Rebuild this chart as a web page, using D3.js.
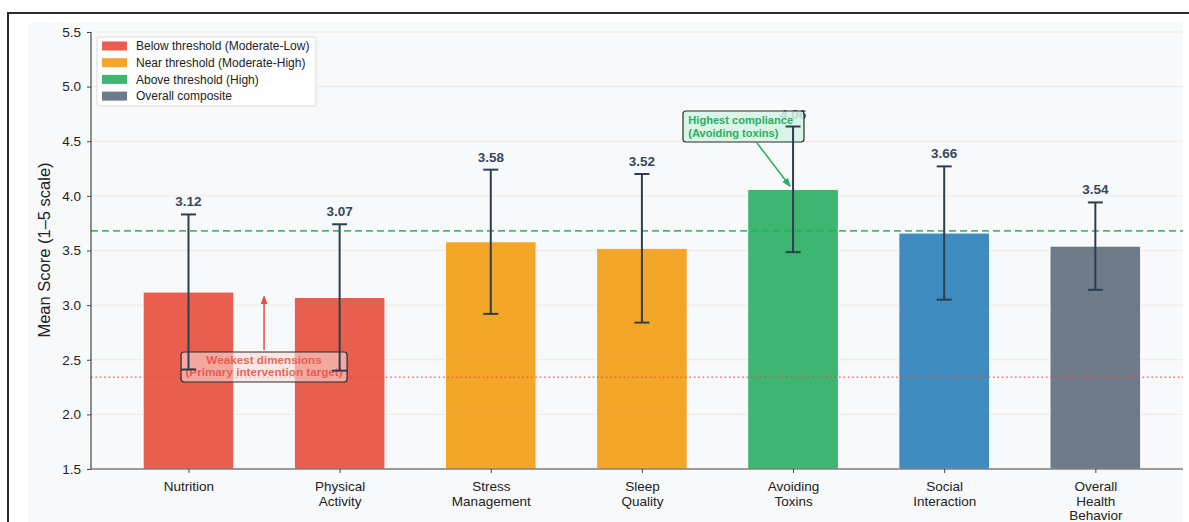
<!DOCTYPE html>
<html>
<head>
<meta charset="utf-8">
<script src="https://cdn.jsdelivr.net/npm/d3@7"></script>
<style>
  body { margin: 0; background: #fff; }
  svg { display: block; font-family: "Liberation Sans", Arial, sans-serif; }
</style>
</head>
<body>
<script>
// data
var categories = ["Nutrition", "Physical\nActivity", "Stress\nManagement", "Sleep\nQuality",
                  "Avoiding\nToxins", "Social\nInteraction", "Overall\nHealth\nBehavior"];
var means = [3.12, 3.07, 3.58, 3.52, 4.06, 3.66, 3.54];
var sds = [0.71, 0.67, 0.66, 0.68, 0.575, 0.61, 0.40];
var barColors = ["#e74c3c", "#e74c3c", "#f39c12", "#f39c12", "#27ae60", "#2980b9", "#5d6d7e"];
var legendLabels = ["Below threshold (Moderate-Low)", "Near threshold (Moderate-High)",
                    "Above threshold (High)", "Overall composite"];
var legendColors = ["#e74c3c", "#f39c12", "#27ae60", "#5d6d7e"];
var yTicks = [1.5, 2.0, 2.5, 3.0, 3.5, 4.0, 4.5, 5.0, 5.5];
var highThreshold = 3.68;
var lowThreshold = 2.34;

window.onload = () => {
  var W = 1189, H = 522;
  var left = 91, right = 1183, top = 32, bottom = 469;

  var svg = d3.select("body").append("svg")
    .attr("width", W).attr("height", H);

  // figure background and frame
  svg.append("rect").attr("x", 28).attr("y", 23)
    .attr("width", right - 28).attr("height", H - 23).attr("fill", "#f8f9fa");
  svg.append("rect").attr("x", 8).attr("y", 13)
    .attr("width", 1300).attr("height", 700)
    .attr("fill", "none").attr("stroke", "#2b2b2b").attr("stroke-width", 2);

  var x = d3.scaleLinear().domain([-0.645, 6.58]).range([left, right]);
  var y = d3.scaleLinear().domain([1.5, 5.5]).range([bottom, top]);
  var bw = x(0.6) - x(0);

  // grid
  svg.append("g").selectAll("line").data(yTicks).enter().append("line")
    .attr("x1", left).attr("x2", right)
    .attr("y1", d => y(d)).attr("y2", d => y(d))
    .attr("stroke", "#e9e9e9").attr("stroke-width", 1);

  // bars
  svg.append("g").selectAll("rect").data(means).enter().append("rect")
    .attr("x", (d, i) => x(i) - bw / 2)
    .attr("y", d => y(d))
    .attr("width", bw)
    .attr("height", d => bottom - y(d))
    .attr("fill", (d, i) => barColors[i])
    .attr("fill-opacity", 0.9)
    .attr("stroke", "#fff").attr("stroke-width", 1);

  // threshold lines
  svg.append("line")
    .attr("x1", left).attr("x2", right)
    .attr("y1", y(highThreshold)).attr("y2", y(highThreshold))
    .attr("stroke", "#27ae60").attr("stroke-width", 1.8)
    .attr("stroke-dasharray", "7,4").attr("opacity", 0.85);
  svg.append("line")
    .attr("x1", left).attr("x2", right)
    .attr("y1", y(lowThreshold)).attr("y2", y(lowThreshold))
    .attr("stroke", "#e74c3c").attr("stroke-width", 1.6)
    .attr("stroke-dasharray", "1.6,2.8").attr("opacity", 0.75);

  // value labels
  svg.append("g").selectAll("text").data(means).enter().append("text")
    .attr("x", (d, i) => x(i))
    .attr("y", (d, i) => y(d + sds[i]) - 8)
    .attr("text-anchor", "middle")
    .attr("font-size", 13.5).attr("font-weight", "bold")
    .attr("fill", "#34495e")
    .text(d => d.toFixed(2));

  // annotations
  var defs = svg.append("defs");
  [["arrRed", "#e74c3c"], ["arrGreen", "#27ae60"]].forEach(function (a) {
    defs.append("marker").attr("id", a[0])
      .attr("viewBox", "0 0 10 10").attr("refX", 9).attr("refY", 5)
      .attr("markerWidth", 6).attr("markerHeight", 6)
      .attr("orient", "auto-start-reverse")
      .append("path").attr("d", "M0,1 L10,5 L0,9 Z").attr("fill", a[1]);
  });

  // weakest dimensions
  var rx = (x(0) + x(1)) / 2;
  svg.append("line")
    .attr("x1", rx).attr("x2", rx)
    .attr("y1", 350).attr("y2", y(3.08))
    .attr("stroke", "#e74c3c").attr("stroke-width", 1.5)
    .attr("marker-end", "url(#arrRed)");
  svg.append("rect")
    .attr("x", rx - 83).attr("y", 352).attr("width", 166).attr("height", 30)
    .attr("rx", 3)
    .attr("fill", "#fadbd8").attr("fill-opacity", 0.6)
    .attr("stroke", "#2b2b2b").attr("stroke-width", 1.2);
  svg.append("text").attr("x", rx).attr("y", 364.3)
    .attr("text-anchor", "middle").attr("font-size", 11.7).attr("font-weight", "bold")
    .attr("fill", "#e74c3c").attr("fill-opacity", 0.85).text("Weakest dimensions");
  svg.append("text").attr("x", rx).attr("y", 376)
    .attr("text-anchor", "middle").attr("font-size", 11.7).attr("font-weight", "bold")
    .attr("fill", "#e74c3c").attr("fill-opacity", 0.85).text("(Primary intervention target)");

  // highest compliance
  svg.append("line")
    .attr("x1", 757).attr("y1", 143)
    .attr("x2", x(4) - 3).attr("y2", y(4.06) - 3)
    .attr("stroke", "#27ae60").attr("stroke-width", 1.5)
    .attr("marker-end", "url(#arrGreen)");
  svg.append("rect")
    .attr("x", 683).attr("y", 111).attr("width", 121).attr("height", 31)
    .attr("rx", 3)
    .attr("fill", "#d5f5e3").attr("fill-opacity", 0.85)
    .attr("stroke", "#2b2b2b").attr("stroke-width", 1.2);
  svg.append("text").attr("x", 688.3).attr("y", 124)
    .attr("font-size", 11.1).attr("font-weight", "bold")
    .attr("fill", "#27ae60").text("Highest compliance");
  svg.append("text").attr("x", 688.3).attr("y", 136.5)
    .attr("font-size", 11.1).attr("font-weight", "bold")
    .attr("fill", "#27ae60").text("(Avoiding toxins)");

  // error bars
  var eb = svg.append("g").attr("stroke", "#2c3e50").attr("stroke-width", 2);
  means.forEach(function (m, i) {
    var cx = x(i), y1 = y(m + sds[i]), y2 = y(m - sds[i]);
    eb.append("line").attr("x1", cx).attr("x2", cx).attr("y1", y1).attr("y2", y2);
    eb.append("line").attr("x1", cx - 7.5).attr("x2", cx + 7.5).attr("y1", y1).attr("y2", y1);
    eb.append("line").attr("x1", cx - 7.5).attr("x2", cx + 7.5).attr("y1", y2).attr("y2", y2);
  });

  // axes
  var yAxis = svg.append("g").attr("transform", "translate(" + left + ",0)")
    .call(d3.axisLeft(y).tickValues(yTicks).tickFormat(d3.format(".1f")).tickSize(4).tickPadding(6));
  var xAxis = svg.append("g").attr("transform", "translate(0," + bottom + ")")
    .call(d3.axisBottom(x).tickValues(d3.range(categories.length)).tickFormat("").tickSize(4));
  [yAxis, xAxis].forEach(function (a) {
    a.select(".domain").attr("stroke", "#444").attr("stroke-width", 1.2);
    a.selectAll(".tick line").attr("stroke", "#444");
  });
  xAxis.select(".domain").attr("d", "M" + left + ",0H" + right);
  yAxis.select(".domain").attr("d", "M0," + top + "V" + bottom);
  yAxis.selectAll(".tick text").attr("font-size", 13.5).attr("fill", "#222")
    .attr("font-family", "Liberation Sans, Arial, sans-serif");

  xAxis.selectAll(".tick").each(function (d) {
    var t = d3.select(this).append("text")
      .attr("text-anchor", "middle").attr("fill", "#222")
      .attr("font-size", 13.5)
      .attr("font-family", "Liberation Sans, Arial, sans-serif");
    categories[d].split("\n").forEach(function (line, k) {
      t.append("tspan").attr("x", 0).attr("y", 22 + k * 14.5).text(line);
    });
  });

  svg.append("text")
    .attr("transform", "translate(49.5,250) rotate(-90)")
    .attr("text-anchor", "middle").attr("font-size", 16.5).attr("fill", "#222")
    .text("Mean Score (1\u20135 scale)");

  // legend
  var lg = svg.append("g").attr("transform", "translate(97,37)");
  lg.append("rect").attr("width", 219).attr("height", 69).attr("rx", 2)
    .attr("fill", "#fff").attr("fill-opacity", 0.85)
    .attr("stroke", "#dcdcdc");
  legendLabels.forEach(function (lab, i) {
    var cy = 9 + i * 16.7;
    lg.append("rect").attr("x", 5).attr("y", cy - 4.5).attr("width", 25).attr("height", 9)
      .attr("fill", legendColors[i]).attr("fill-opacity", 0.9);
    lg.append("text").attr("x", 39).attr("y", cy + 4.3)
      .attr("font-size", 12).attr("fill", "#222").text(lab);
  });
};
</script>
</body>
</html>
